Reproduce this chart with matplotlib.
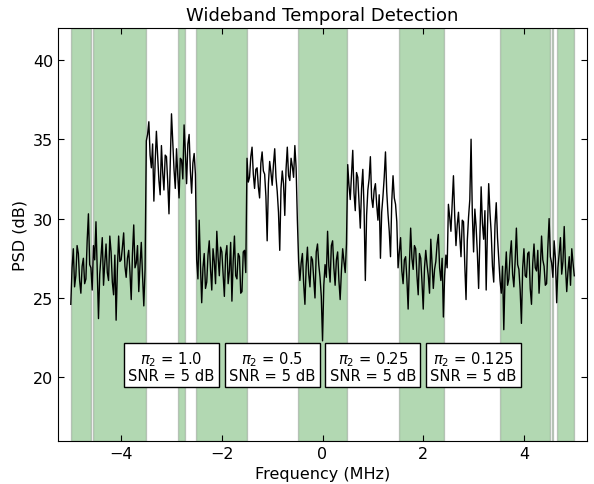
import numpy as np
import matplotlib
matplotlib.use("Agg")
import matplotlib.pyplot as plt

# PSD trace (dB), sampled every 0.025 MHz from -5 to 5 MHz (20 values per row = 0.5 MHz)
freq_start, freq_stop = -5.0, 5.0
psd = [
    24.6, 26.9, 28.1, 25.7, 26.4, 28.3, 27.8, 26.1, 25.3, 27.0, 27.5, 25.9, 26.2, 28.6, 30.3, 27.1, 26.9, 25.5, 28.3, 27.4,
    29.8, 26.7, 23.7, 26.5, 27.6, 28.8, 25.8, 27.2, 28.4, 26.6, 26.1, 28.9, 27.9, 26.0, 25.2, 27.7, 23.6, 26.8, 28.9, 27.3,
    27.4, 28.2, 29.1, 27.0, 26.3, 27.5, 28.0, 26.6, 24.9, 27.8, 29.6, 26.9, 27.2, 28.3, 25.4, 27.1, 28.5, 26.4, 24.5, 26.8,
    34.9, 35.3, 36.1, 34.0, 33.2, 34.7, 31.1, 33.5, 35.5, 33.9, 32.4, 31.5, 34.6, 32.9, 31.8, 34.0, 33.9, 32.3, 30.3, 33.4,
    36.6, 34.8, 33.1, 31.9, 34.4, 32.7, 31.3, 33.8, 33.7, 32.5, 35.9, 34.2, 32.2, 34.7, 35.3, 33.0, 31.6, 33.5, 34.1, 32.8,
    27.4, 26.2, 29.9, 27.1, 24.7, 26.9, 27.8, 25.6, 26.0, 27.7, 28.6, 26.8, 25.5, 28.1, 27.3, 25.9, 29.2, 27.6, 26.4, 28.2,
    27.9, 26.5, 25.1, 27.7, 28.3, 25.9, 26.7, 28.5, 24.8, 27.3, 28.9, 26.4, 26.2, 27.8, 27.6, 25.3, 25.4, 27.9, 28.0, 26.6,
    33.8, 32.3, 32.6, 33.9, 34.5, 32.8, 31.9, 33.1, 33.2, 32.0, 31.3, 33.5, 34.2, 33.0, 32.8, 31.4, 28.6, 32.2, 33.6, 32.9,
    32.1, 33.4, 34.4, 32.6, 31.7, 30.4, 28.0, 31.9, 33.0, 32.2, 30.2, 33.1, 34.5, 32.7, 32.4, 33.8, 33.3, 32.6, 34.6, 33.2,
    29.9, 27.3, 26.1, 27.2, 27.8, 25.9, 24.6, 27.0, 28.2, 26.5, 25.7, 27.6, 27.4, 26.2, 25.0, 27.9, 28.4, 27.1, 26.3, 25.1,
    22.3, 25.8, 27.1, 26.3, 29.2, 27.0, 26.0, 28.3, 28.6, 26.9, 25.8, 27.4, 27.9, 26.1, 24.9, 26.7, 28.1, 27.3, 26.6, 28.4,
    33.4, 32.1, 31.2, 32.8, 34.3, 31.6, 30.5, 32.9, 32.6, 31.0, 29.4, 31.9, 33.1, 30.6, 26.1, 30.2, 31.8, 32.5, 33.9, 31.3,
    30.7, 31.8, 32.2, 30.9, 29.9, 31.5, 27.5, 30.4, 31.4, 32.6, 34.2, 31.7, 30.3, 29.2, 27.6, 31.1, 32.7, 31.3, 30.9, 29.8,
    26.9, 27.9, 28.8, 26.7, 25.9, 27.4, 27.6, 26.2, 24.3, 27.1, 29.4, 27.5, 26.8, 28.3, 28.1, 26.4, 25.2, 27.8, 27.5, 26.0,
    24.3, 26.9, 28.0, 27.1, 26.4, 25.3, 28.7, 27.2, 25.6, 26.8, 27.3, 28.4, 29.0, 26.9, 26.1, 27.5, 23.8, 26.4, 27.7, 26.9,
    30.9, 30.1, 29.2, 31.0, 32.7, 30.2, 28.3, 29.6, 30.4, 28.9, 27.6, 29.9, 29.8, 27.1, 24.9, 28.6, 30.1, 31.2, 35.0, 30.3,
    27.9, 30.6, 29.5, 27.8, 25.6, 28.9, 32.0, 29.7, 28.7, 30.5, 25.5, 29.3, 32.2, 30.4, 29.1, 27.0, 26.0, 29.6, 31.0, 28.8,
    27.4, 26.1, 25.3, 27.0, 23.0, 26.4, 27.9, 25.8, 26.2, 27.7, 28.6, 26.5, 25.7, 27.3, 29.4, 27.1, 26.8, 25.5, 23.4, 26.9,
    28.1, 26.4, 26.3, 27.8, 27.9, 25.6, 24.6, 27.2, 28.4, 26.9, 26.7, 28.0, 25.3, 26.8, 28.9, 27.4, 27.0, 25.8, 25.9, 28.2,
    30.0, 27.6, 27.2, 26.3, 28.6, 27.5, 24.7, 26.9, 27.8, 28.8, 26.5, 27.3, 29.5, 27.0, 25.4, 26.7, 27.6, 25.8, 28.1, 27.2,
    26.4,
]

# detected (vacant) bands, MHz
band_lo = [-5.00, -4.56, -2.87, -2.52, -0.49, 1.51, 3.53, 4.56, 4.66]
band_hi = [-4.60, -3.50, -2.73, -1.51, 0.48, 2.42, 4.52, 4.58, 5.00]

# signal annotations
label_x = [-3, -1, 1, 3]
pi2_vals = ["1.0", "0.5", "0.25", "0.125"]
snr_db = [5, 5, 5, 5]


def main():
    assert len(psd) == 401
    freq = np.linspace(freq_start, freq_stop, len(psd))

    fig = plt.figure(figsize=(5.94, 4.85), dpi=100)
    fig.subplots_adjust(left=0.098, right=0.988, top=0.94, bottom=0.089)
    ax = fig.add_subplot(111)

    for lo, hi in zip(band_lo, band_hi):
        ax.axvspan(lo, hi, facecolor='g', edgecolor='0.4', lw=1, alpha=0.3)

    ax.plot(freq, psd, color='k', lw=1)

    for x, p, s in zip(label_x, pi2_vals, snr_db):
        ax.text(x, 20.7, r"$\pi_2$ = {}".format(p) + "\nSNR = {} dB".format(s),
                ha='center', va='center', multialignment='center',
                fontsize=10.6, linespacing=1.0,
                bbox=dict(boxstyle='square,pad=0.3', fc='white', ec='k'))

    ax.set_xlim(-5.25, 5.25)
    ax.set_ylim(16, 42)
    ax.set_xticks([-4, -2, 0, 2, 4])
    ax.set_yticks([20, 25, 30, 35, 40])
    ax.tick_params(direction='in', top=True, right=True, labelsize=11.5,
                   length=4)

    ax.set_xlabel("Frequency (MHz)", fontsize=11.5)
    ax.set_ylabel("PSD (dB)", fontsize=11.5)
    ax.set_title("Wideband Temporal Detection", fontsize=13)

    fig.savefig("out.png", dpi=100)
    plt.close(fig)


if __name__ == "__main__":
    main()
